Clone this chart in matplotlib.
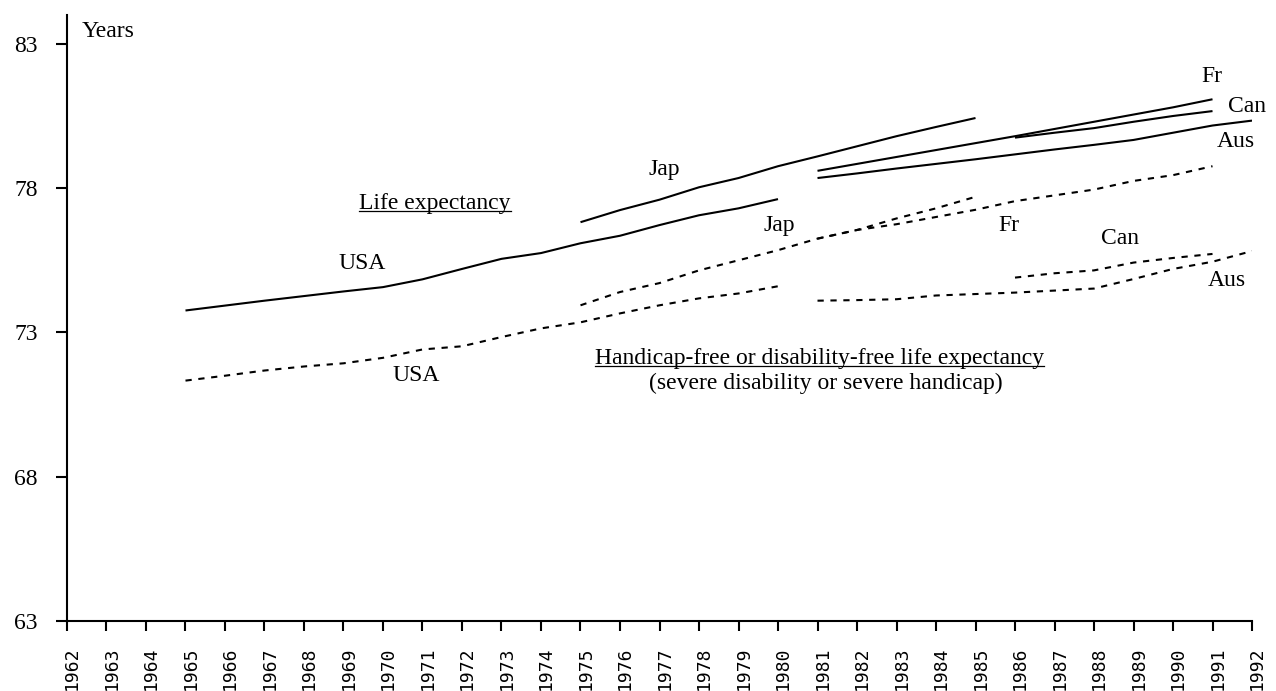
import numpy as np
import matplotlib.pyplot as plt
import matplotlib.transforms as mtransforms
from matplotlib.lines import Line2D

# life expectancy (solid) and handicap-free life expectancy (dashed), by country
usa_years = list(range(1965, 1981))
usa_le = [73.76, 73.93, 74.10, 74.26, 74.42, 74.57, 74.84, 75.20,
          75.55, 75.75, 76.09, 76.35, 76.72, 77.06, 77.30, 77.62]
usa_hfle = [71.33, 71.50, 71.68, 71.82, 71.93, 72.12, 72.41, 72.52,
            72.84, 73.14, 73.35, 73.66, 73.94, 74.18, 74.35, 74.60]

jap_years = list(range(1975, 1986))
jap_le = [76.82, 77.24, 77.60, 78.03, 78.35, 78.76, 79.10, 79.45, 79.80, 80.12, 80.43]
jap_hfle = [73.94, 74.40, 74.71, 75.15, 75.50, 75.85, 76.25, 76.55, 76.95, 77.30, 77.70]

fr_years = list(range(1981, 1992))
fr_le = [78.60, 78.84, 79.08, 79.32, 79.56, 79.80, 80.05, 80.30, 80.55, 80.80, 81.08]
fr_hfle = [76.25, 76.55, 76.75, 77.00, 77.25, 77.55, 77.75, 77.95, 78.25, 78.45, 78.76]

can_years = list(range(1986, 1992))
can_le = [79.75, 79.92, 80.08, 80.30, 80.50, 80.67]
can_hfle = [74.90, 75.05, 75.15, 75.42, 75.58, 75.72]

aus_years = list(range(1981, 1993))
aus_le = [78.35, 78.51, 78.68, 78.84, 79.00, 79.17, 79.34, 79.50, 79.67, 79.92, 80.17, 80.34]
aus_hfle = [74.10, 74.12, 74.15, 74.28, 74.33, 74.38, 74.45, 74.52, 74.85, 75.20, 75.45, 75.82]

year_ticks = list(range(1962, 1993))
value_ticks = [63, 68, 73, 78, 83]

serif = 'Liberation Serif'
fs = 17

fig = plt.figure(figsize=(12.76, 6.91), dpi=100)
ax = fig.add_axes([0.0525, 0.1013, 0.9287, 0.877])

solid = dict(color='black', lw=1.5, solid_capstyle='butt')
dashed = dict(color='black', lw=1.5, linestyle=(0, (3, 3.2)))

for yrs, le, hf in [(usa_years, usa_le, usa_hfle), (jap_years, jap_le, jap_hfle),
                    (fr_years, fr_le, fr_hfle), (can_years, can_le, can_hfle),
                    (aus_years, aus_le, aus_hfle)]:
    ax.plot(yrs, le, **solid)
    ax.plot(yrs, hf, **dashed)

ax.set_xlim(1962, 1992)
ax.set_ylim(63, 84)
ax.spines['top'].set_visible(False)
ax.spines['right'].set_visible(False)
for s in ['left', 'bottom']:
    ax.spines[s].set_linewidth(1.5)

ax.set_yticks(value_ticks)
ax.set_yticklabels([str(v) for v in value_ticks], fontfamily=serif, fontsize=fs)
ax.tick_params(axis='y', direction='out', length=8, width=1.5, pad=13)

ax.set_xticks(year_ticks)
ax.set_xticklabels([str(y) for y in year_ticks], rotation=90,
                   fontfamily='DejaVu Sans Mono', fontsize=13)
ax.tick_params(axis='x', direction='out', length=7, width=1.5, pad=11)
# nudge the year labels a little to the right of their ticks
offset = mtransforms.ScaledTranslation(5 / 100, 0, fig.dpi_scale_trans)
for lbl in ax.get_xticklabels():
    lbl.set_transform(lbl.get_transform() + offset)

txt = dict(fontfamily=serif, fontsize=fs, ha='center', va='center')
ax.text(1962.38, 83.42, 'Years', fontfamily=serif, fontsize=fs, ha='left', va='center')
ax.text(1969.47, 75.40, 'USA', **txt)
ax.text(1970.84, 71.50, 'USA', **txt)
ax.text(1977.13, 78.63, 'Jap', **txt)
ax.text(1980.04, 76.71, 'Jap', **txt)
ax.text(1990.99, 81.86, 'Fr', **txt)
ax.text(1991.87, 80.82, 'Can', **txt)
ax.text(1991.60, 79.61, 'Aus', **txt)
ax.text(1985.85, 76.71, 'Fr', **txt)
ax.text(1988.66, 76.26, 'Can', **txt)
ax.text(1991.37, 74.81, 'Aus', **txt)

t_le = ax.text(1971.32, 77.48, 'Life expectancy', **txt)
t_hf = ax.text(1981.06, 72.10, 'Handicap-free or disability-free life expectancy', **txt)
ax.text(1981.20, 71.23, '(severe disability or severe handicap)', **txt)

# underline the two headings
fig.canvas.draw()
renderer = fig.canvas.get_renderer()
inv = fig.transFigure.inverted()
for t in [t_le, t_hf]:
    bb = t.get_window_extent(renderer)
    (x0, y0), (x1, _) = inv.transform([(bb.x0, bb.y0 + 3), (bb.x1, bb.y0)])
    fig.add_artist(Line2D([x0, x1], [y0, y0], color='black', lw=0.9,
                          transform=fig.transFigure))

fig.savefig('out.png', dpi=100)
